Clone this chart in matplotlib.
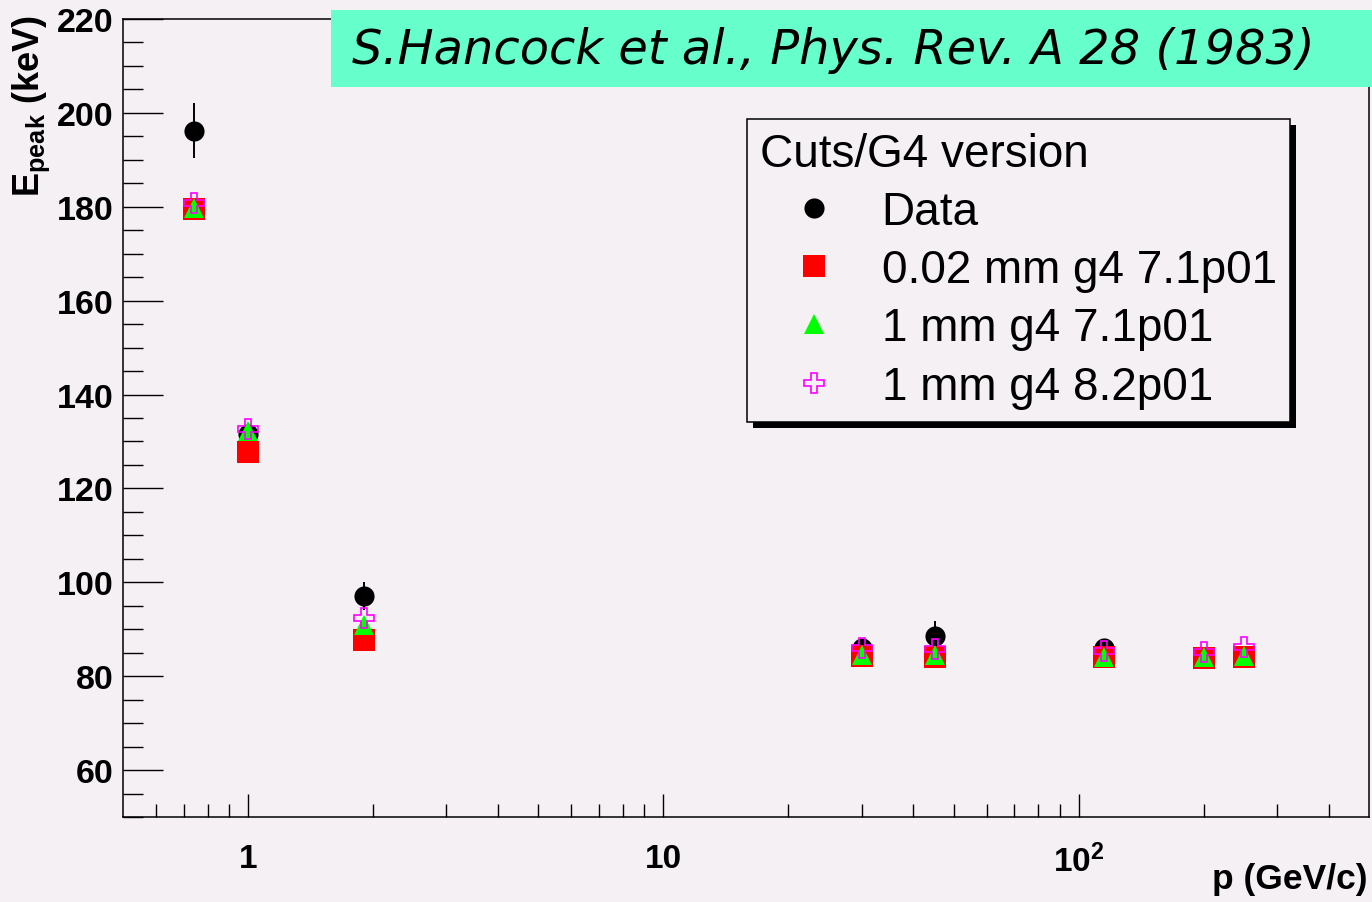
import matplotlib
matplotlib.use('Agg')
import matplotlib.pyplot as plt
from matplotlib.patches import Rectangle
from matplotlib.ticker import FixedLocator, FixedFormatter, MultipleLocator, NullFormatter

# momentum points (GeV/c)
p_data = [0.74, 1.0, 1.9, 30, 45, 115]
p_sim = [0.74, 1.0, 1.9, 30, 45, 115, 200, 250]

# peak energy (keV)
e_data = [196.2, 131.5, 97.1, 86.0, 88.6, 86.1]
e_data_err = [5.8, 1.5, 3.0, 1.0, 3.1, 1.0]
e_002mm_71 = [179.5, 127.8, 87.7, 84.3, 84.0, 84.1, 83.9, 84.1]
e_1mm_71 = [179.7, 132.2, 91.0, 84.6, 84.5, 84.0, 84.0, 84.4]
e_1mm_82 = [180.9, 132.6, 92.3, 86.1, 85.8, 85.4, 85.1, 86.2]

labels = ['Data', '0.02 mm g4 7.1p01', '1 mm g4 7.1p01', '1 mm g4 8.2p01']
bg = '#f4f0f4'

plt.rcParams['font.family'] = ['Liberation Sans', 'DejaVu Sans']
plt.rcParams['mathtext.fontset'] = 'custom'
plt.rcParams['mathtext.rm'] = 'Liberation Sans:bold'
plt.rcParams['mathtext.bf'] = 'Liberation Sans:bold'
plt.rcParams['mathtext.it'] = 'Liberation Sans:bold'

fig = plt.figure(figsize=(13.72, 9.03), dpi=100, facecolor=bg)
ax = fig.add_axes([123 / 1372, 1 - 818 / 903, (1369 - 123) / 1372, (818 - 20) / 903])
ax.set_facecolor(bg)

eb = ax.errorbar(p_data, e_data, yerr=e_data_err, fmt='o', color='black', ms=14.5,
                 mew=0, elinewidth=1.4, capsize=6, capthick=1.4, zorder=3)
h_red, = ax.plot(p_sim, e_002mm_71, 's', color='#ff0000', ms=15.5, mew=0, zorder=4)
h_green, = ax.plot(p_sim, e_1mm_71, '^', color='#00ff00', ms=14, mew=0, zorder=5)
h_mag, = ax.plot(p_sim, e_1mm_82, 'P', mfc='none', mec='#ff00ff', ms=14.5, mew=1.2, zorder=6)

ax.set_xscale('log')
ax.set_xlim(0.5, 500)
ax.set_ylim(50, 220)

ax.xaxis.set_major_locator(FixedLocator([1, 10, 100]))
ax.xaxis.set_major_formatter(FixedFormatter(['1', '10', r'$\mathbf{10^{2}}$']))
minors = [0.6, 0.7, 0.8, 0.9] + list(range(2, 10)) + list(range(20, 100, 10)) + [200, 300, 400]
ax.xaxis.set_minor_locator(FixedLocator(minors))
ax.xaxis.set_minor_formatter(NullFormatter())
ax.yaxis.set_major_locator(MultipleLocator(20))
ax.yaxis.set_minor_locator(MultipleLocator(5))

ax.tick_params(axis='x', which='major', direction='in', length=16.5, width=1.0, pad=19,
               labelsize=24)
ax.tick_params(axis='x', which='minor', direction='in', length=9.5, width=1.0)
ax.tick_params(axis='y', which='major', direction='in', length=28.5, width=1.0, pad=7,
               labelsize=24.5)
ax.tick_params(axis='y', which='minor', direction='in', length=14.5, width=1.0)
for lab in ax.get_xticklabels() + ax.get_yticklabels():
    lab.set_fontweight('bold')
for s in ax.spines.values():
    s.set_linewidth(1.1)

fig.text(11 / 1372, 1 - 15 / 903, r'$\mathbf{E}_{\mathbf{peak}}$ (keV)', rotation=90,
         ha='left', va='top', fontsize=26, fontweight='bold')
fig.text(1367 / 1372, 1 - 880 / 903, 'p (GeV/c)', ha='right', va='center',
         fontsize=25.5, fontweight='bold')

# reference banner
fig.patches.append(Rectangle((331 / 1372, 1 - 88 / 903), 1.0, 77 / 903,
                             transform=fig.transFigure, facecolor='#66ffcc',
                             edgecolor='none', zorder=2))
fig.text(352 / 1372, 1 - 51 / 903, 'S.Hancock et al., Phys. Rev. A 28 (1983)',
         family='DejaVu Sans', style='italic', fontsize=34.5, va='center', zorder=3)

leg = ax.legend([eb.lines[0], h_red, h_green, h_mag], labels,
                loc='upper left', bbox_to_anchor=(747 / 1372, 1 - 120 / 903),
                bbox_transform=fig.transFigure, title='Cuts/G4 version',
                fontsize=33, title_fontsize=33, alignment='left', frameon=True,
                fancybox=False, facecolor=bg, edgecolor='black', framealpha=1,
                borderpad=0.28, handlelength=2.36, handletextpad=0.3,
                labelspacing=0.31, borderaxespad=0)
leg.get_frame().set_linewidth(1.1)
leg.set_zorder(10)

fig.canvas.draw()
bb = leg.get_window_extent()
inv = ax.transAxes.inverted()
(x0, y0), (x1, y1) = inv.transform([(bb.x0 + 6, bb.y0 - 6), (bb.x1 + 6, bb.y1 - 6)])
ax.add_patch(Rectangle((x0, y0), x1 - x0, y1 - y0, transform=ax.transAxes,
                       facecolor='black', edgecolor='none', zorder=9, clip_on=False))

fig.savefig('out.png', dpi=100, facecolor=bg)
